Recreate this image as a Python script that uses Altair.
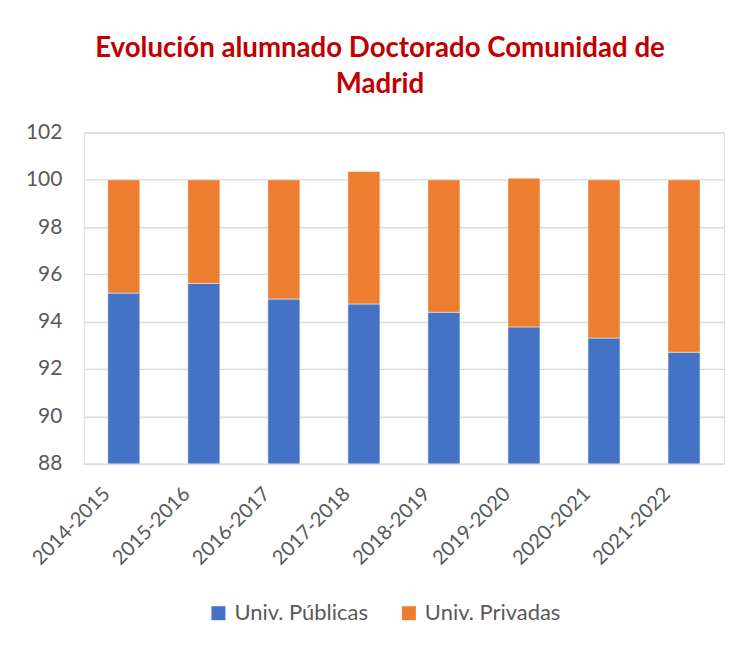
import altair as alt
import pandas as pd

years = ["2014-2015", "2015-2016", "2016-2017", "2017-2018",
         "2018-2019", "2019-2020", "2020-2021", "2021-2022"]
publicas = [95.21, 95.62, 94.96, 94.75, 94.40, 93.78, 93.31, 92.71]
privadas = [4.79, 4.38, 5.04, 5.60, 5.60, 6.29, 6.69, 7.29]
series = ["Univ. Públicas", "Univ. Privadas"]
colors = ["#4472C4", "#ED7D31"]
y_ticks = [88, 90, 92, 94, 96, 98, 100, 102]

rows = []
for i, yr in enumerate(years):
    rows.append({"curso": yr, "serie": series[0], "valor": publicas[i], "orden": 0})
    rows.append({"curso": yr, "serie": series[1], "valor": privadas[i], "orden": 1})
df = pd.DataFrame(rows)

FONT = "Lato"
GREY = "#595959"

chart = alt.Chart(df).mark_bar(clip=True, stroke="white", strokeWidth=0.5).encode(
    x=alt.X("curso:N", sort=years, title=None,
            scale=alt.Scale(paddingInner=0.6, paddingOuter=0.3),
            axis=alt.Axis(labelAngle=-45, labelFontSize=20, labelColor=GREY,
                          labelFont=FONT, ticks=False, domain=False,
                          labelPadding=20, labelOffset=-24)),
    y=alt.Y("valor:Q", stack="zero", title=None,
            scale=alt.Scale(domain=[88, 102], nice=False, zero=False),
            axis=alt.Axis(values=y_ticks, labelFontSize=21, labelColor=GREY,
                          labelFont=FONT, ticks=False, domain=False,
                          labelPadding=22, gridColor="#D9D9D9", gridWidth=1.3)),
    color=alt.Color("serie:N", sort=series,
                    scale=alt.Scale(domain=series, range=colors),
                    legend=alt.Legend(orient="none", legendX=124, legendY=471,
                                      direction="horizontal",
                                      title=None, symbolType="square",
                                      symbolSize=196, symbolStrokeWidth=0,
                                      labelFontSize=22, labelColor=GREY,
                                      labelFont=FONT, columnPadding=30,
                                      labelOffset=5)),
    order=alt.Order("orden:Q"),
).properties(
    width=642,
    height=332,
    title=alt.Title(["Evolución alumnado Doctorado Comunidad de", "Madrid"],
                    fontSize=27.7, font=FONT, fontWeight="bold", color="#C00000",
                    anchor="middle", lineHeight=36, offset=23, dx=-24),
    padding={"left": 17, "top": 26, "right": 15, "bottom": 10},
).configure_view(stroke=None).configure(background="white")

chart.save("out.html", embed_options={"renderer": "svg", "actions": False})
